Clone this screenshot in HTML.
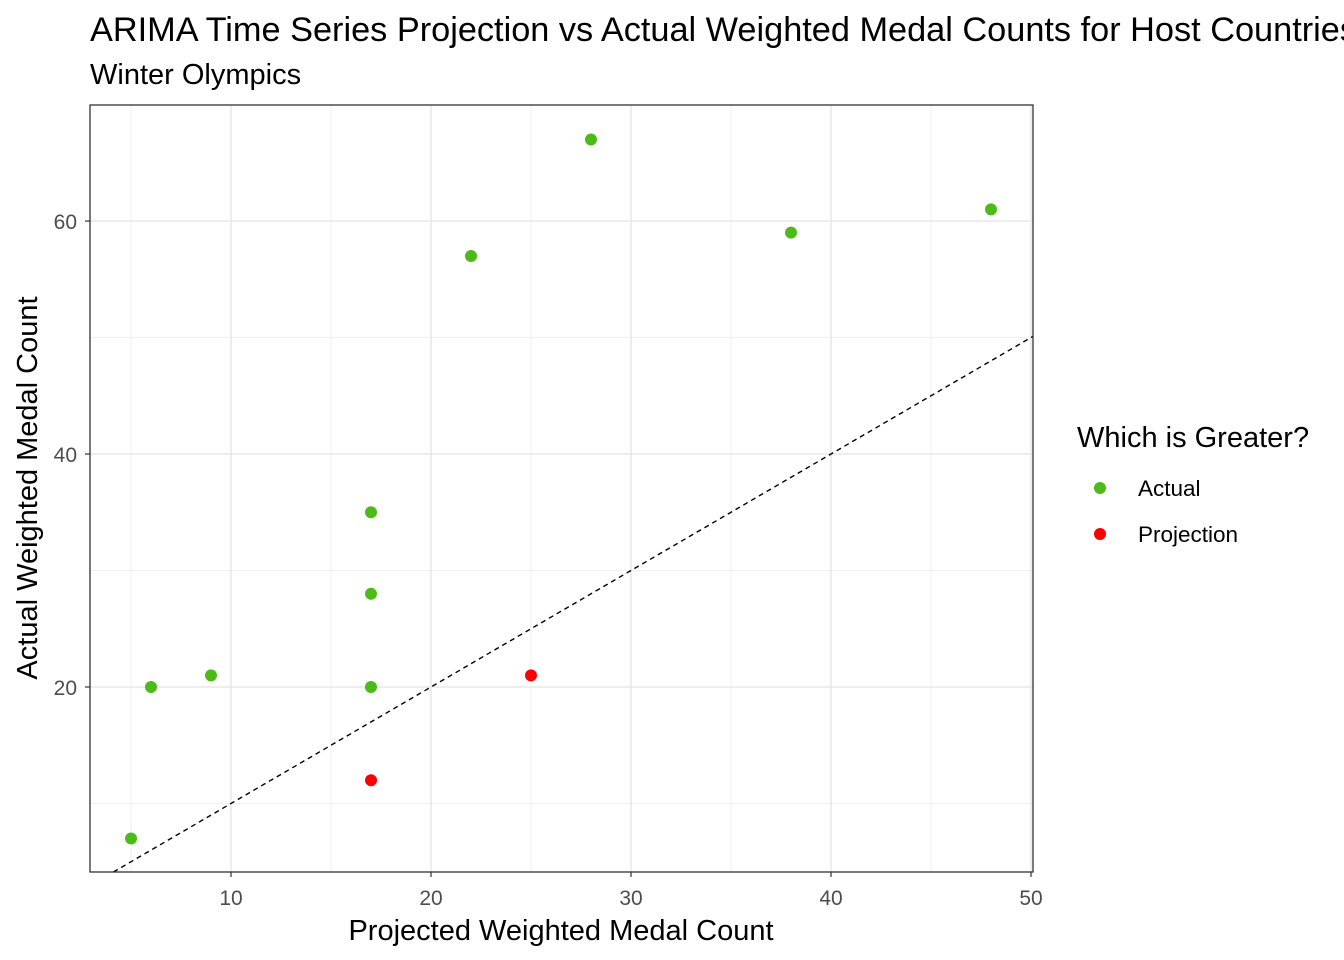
<!DOCTYPE html>
<html><head><meta charset="utf-8"><style>
body{margin:0;background:#fff;overflow:hidden}
svg{display:block;font-family:"Liberation Sans",Arial,sans-serif}
</style></head><body>
<svg id="chart" width="1344" height="960">
<text x="90" y="41" font-size="34.3" fill="#000">ARIMA Time Series Projection vs Actual Weighted Medal Counts for Host Countries</text>
<text x="90" y="84" font-size="29" fill="#000">Winter Olympics</text>
<g id="grid"></g>
<g id="marks"></g>
<rect x="90" y="105" width="943" height="767" fill="none" stroke="#333" stroke-width="1.3"/>
<g id="axes"></g>
<text x="561" y="940" font-size="29" text-anchor="middle">Projected Weighted Medal Count</text>
<text transform="translate(37,488) rotate(-90)" font-size="29" text-anchor="middle">Actual Weighted Medal Count</text>
<g>
<text x="1077" y="447" font-size="29">Which is Greater?</text>
<circle cx="1100" cy="488" r="6" fill="#4cbb17"/>
<text x="1138" y="496" font-size="22.5">Actual</text>
<circle cx="1100" cy="534" r="6" fill="#ff0000"/>
<text x="1138" y="542" font-size="22.5">Projection</text>
</g>
</svg>
<script>
const projected=[5,6,9,17,17,17,17,22,28,38,48,25];
const actual=[7,20,21,35,28,20,12,57,67,59,61,21];
const xTicks=[10,20,30,40,50];
const yTicks=[20,40,60];
const xMinor=[5,15,25,35,45];
const yMinor=[10,30,50];
const NS="http://www.w3.org/2000/svg";
const L=90,R=1033,T=105,B=872,xMin=2.95,xMax=50.1,yMin=4.12,yMax=69.96;
const sx=v=>L+(v-xMin)/(xMax-xMin)*(R-L);
const sy=v=>B-(v-yMin)/(yMax-yMin)*(B-T);
function mk(tag,a,parent){const e=document.createElementNS(NS,tag);for(const k in a)e.setAttribute(k,a[k]);parent.appendChild(e);return e;}
const grid=document.getElementById('grid'),marks=document.getElementById('marks'),axes=document.getElementById('axes');
xMinor.forEach(v=>{const e=mk('line',{x1:sx(v),x2:sx(v),y1:T,y2:B,stroke:'#ebebeb','stroke-width':0.8},grid);

});
yMinor.forEach(v=>{const e=mk('line',{x1:L,x2:R,y1:sy(v),y2:sy(v),stroke:'#ebebeb','stroke-width':0.8},grid);

});
xTicks.forEach(v=>{const e=mk('line',{x1:sx(v),x2:sx(v),y1:T,y2:B,stroke:'#e3e3e3','stroke-width':1.3},grid);


const t=mk('line',{x1:sx(v),x2:sx(v),y1:B,y2:B+5,stroke:'#333','stroke-width':1.2},axes);


const l=mk('text',{x:sx(v),y:B+33,'font-size':21,fill:'#4d4d4d','text-anchor':'middle'},axes);l.textContent=v;

});
yTicks.forEach(v=>{const e=mk('line',{x1:L,x2:R,y1:sy(v),y2:sy(v),stroke:'#e3e3e3','stroke-width':1.3},grid);


const t=mk('line',{x1:L-5,x2:L,y1:sy(v),y2:sy(v),stroke:'#333','stroke-width':1.2},axes);


const l=mk('text',{x:L-13,y:sy(v)+8,'font-size':21,fill:'#4d4d4d','text-anchor':'end'},axes);l.textContent=v;

});
const x0=Math.max(xMin,yMin),x1=Math.min(xMax,yMax);
const ref=mk('line',{x1:sx(x0),y1:sy(x0),x2:sx(x1),y2:sy(x1),stroke:'#000','stroke-width':1.4,'stroke-dasharray':'5,4'},marks);


projected.forEach((p,i)=>{const a=actual[i];
const c=mk('circle',{cx:sx(p),cy:sy(a),r:6,fill:a>=p?'#4cbb17':'#ff0000'},marks);

});
</script>
</body></html>
